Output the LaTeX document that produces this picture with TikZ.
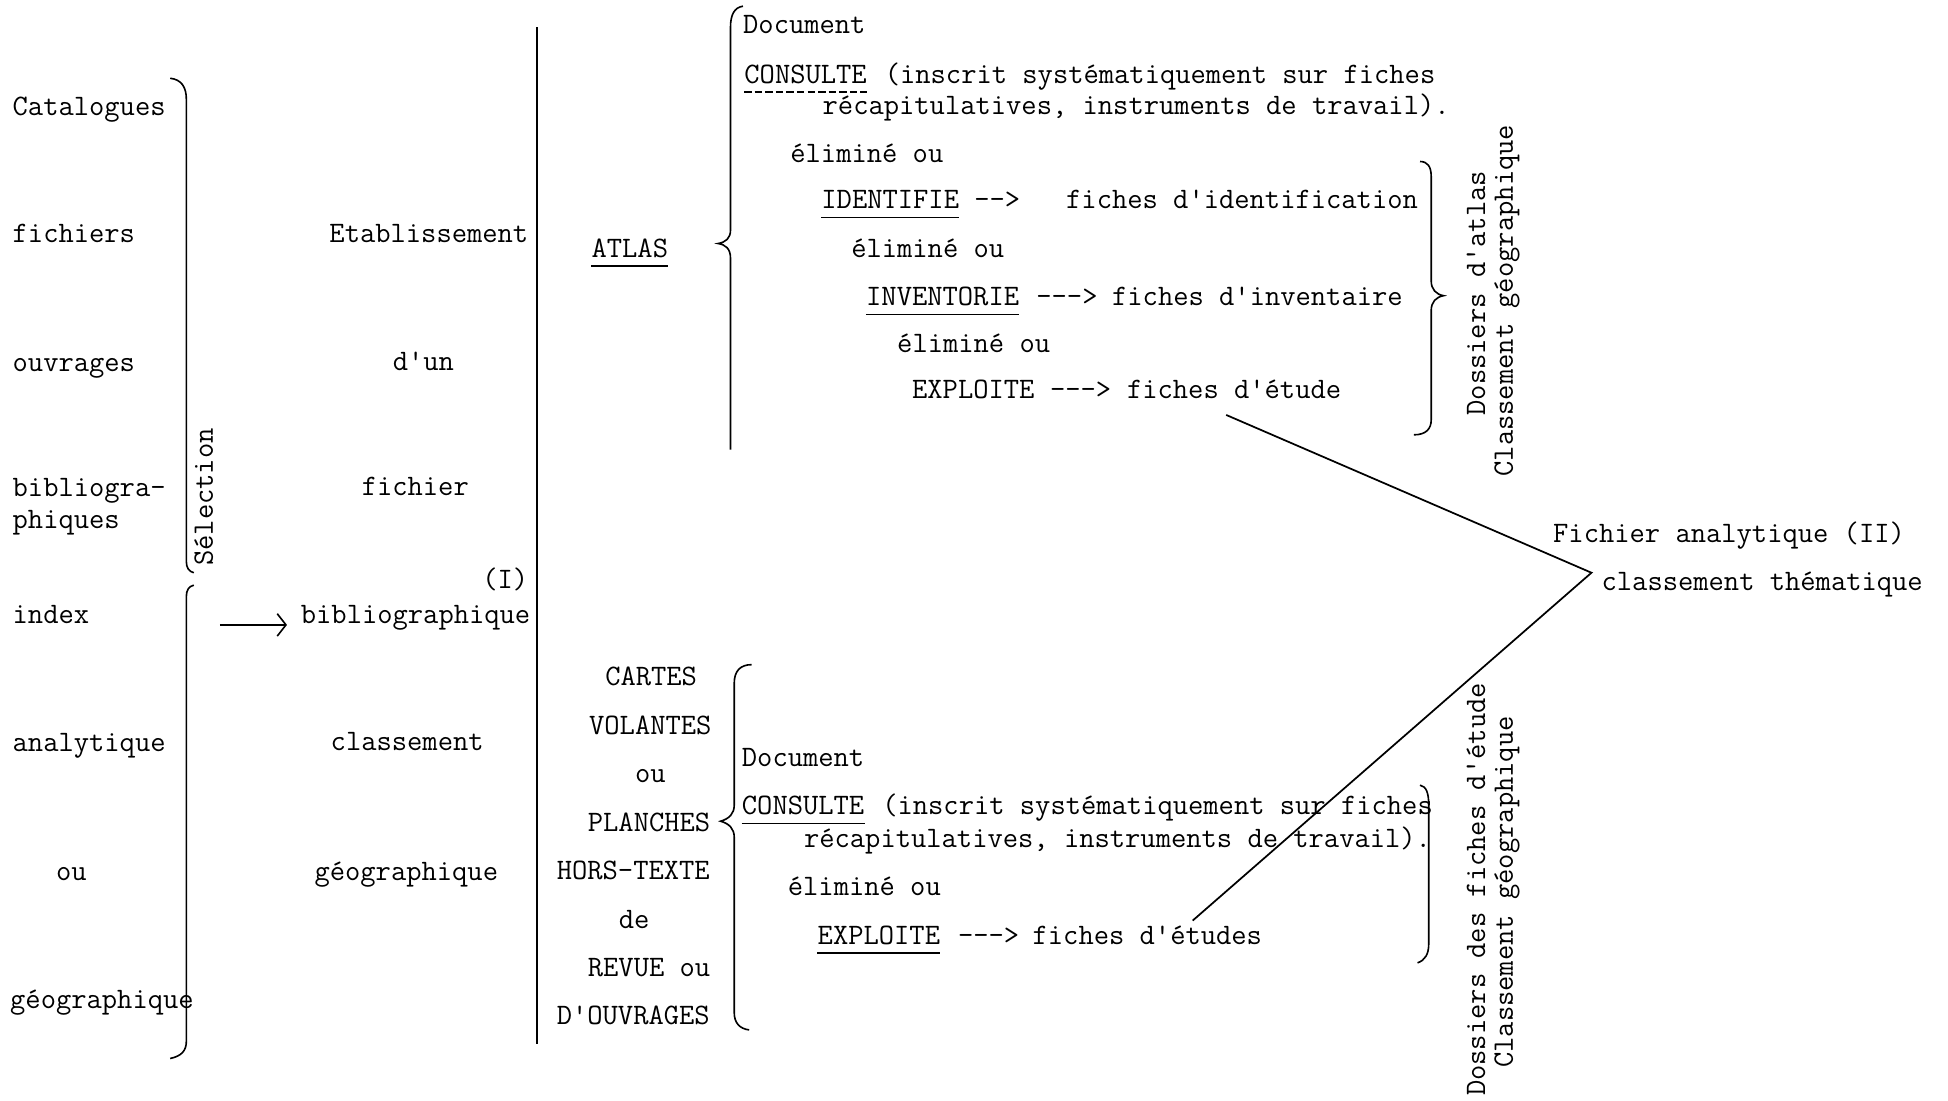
\documentclass[tikz,border=0pt]{standalone}
\usetikzlibrary{arrows.meta}
\newcommand\tyfont{\fontsize{23.9}{25}\selectfont\ttfamily}
\begin{document}
\begin{tikzpicture}[x=1pt,y=-1pt,
  t/.style={anchor=base west, inner sep=0pt, font=\tyfont, yshift=-3pt},
  vt/.style={rotate=90, inner sep=0pt, font=\tyfont},
  ln/.style={line width=1.4pt},
  br/.style={line width=1.3pt},
  ul/.style={line width=1.3pt}]
\useasboundingbox[fill=white] (0,0) rectangle (1568,886);

% column 1
\node[t] (cat) at (10,90) {Catalogues};
\node[t] (fic) at (10,192) {fichiers};
\node[t] (ouv) at (10,296) {ouvrages};
\node[t] (bib1) at (10,397) {bibliogra-};
\node[t] (phi) at (10,422) {phiques};
\node[t] (idx) at (10,499) {index};
\node[t] (ana) at (10,602) {analytique};
\node[t] (ou1) at (45,706) {ou};
\node[t] (geo1) at (8,809) {géographique};

% brace of column 1
\draw[br] (137,63) .. controls (146,64) and (150,70) .. (150,80) -- (150,452) .. controls (150,457) and (152,460) .. (156,461);
\draw[br] (156,471) .. controls (152,472) and (150,475) .. (150,480) -- (150,838) .. controls (150,846) and (146,850) .. (137,852);
\node[vt] (sel) at (164,400) {Sélection};

% arrow
\coordinate (arrs) at (177,503);
\coordinate (arre) at (231,503);
\draw[line width=1.3pt,-{Straight Barb[length=7pt,width=18pt,line width=1.3pt]}] (arrs) -- (arre);

% column 2
\node[t] (eta) at (265,192) {Etablissement};
\node[t] (dun) at (316,295) {d'un};
\node[t] (fch) at (291,396) {fichier};
\node[t] (one) at (388,471) {(I)};
\node[t] (bibl) at (242,499) {bibliographique};
\node[t] (cls) at (266,601) {classement};
\node[t] (geo2) at (253,706) {géographique};

% vertical line
\coordinate (vl1) at (432,22);
\coordinate (vl2) at (432,840);
\draw[ln] (vl1) -- (vl2);

% ATLAS
\node[t] (atlas) at (476,204) {ATLAS};
\draw[ul] ([yshift=-7pt]atlas.base west) -- ([yshift=-7pt]atlas.base east);

\draw[br] (598,5) .. controls (591,6) and (588,12) .. (588,22) -- (588,185) .. controls (588,192) and (584,195) .. (578,196) .. controls (584,197) and (588,200) .. (588,208) -- (588,362);

% upper block
\node[t] (doc1) at (598,24) {Document};
\node[t] (cons1) at (599,64) {CONSULTE};
\draw[ul, dash pattern=on 6pt off 2.5pt] ([yshift=-7pt]cons1.base west) -- ([yshift=-7pt]cons1.base east);
\node[t] (cons1r) at (712,64) {(inscrit systématiquement sur fiches};
\node[t] (recap1) at (662,89) {récapitulatives, instruments de travail).};
\node[t] (el1) at (636,128) {éliminé ou};
\node[t] (ide) at (661,165) {IDENTIFIE};
\draw[ul] ([yshift=-7pt]ide.base west) -- ([yshift=-7pt]ide.base east);
\node[t] (arr1) at (784,165) {-{}->};
\node[t] (fid) at (858,165) {fiches d'identification};
\node[t] (el2) at (685,204) {éliminé ou};
\node[t] (inv) at (697,243) {INVENTORIE};
\draw[ul] ([yshift=-7pt]inv.base west) -- ([yshift=-7pt]inv.base east);
\node[t] (arr2) at (834,243) {-{}-{}->};
\node[t] (finv) at (895,243) {fiches d'inventaire};
\node[t] (el3) at (722,281) {éliminé ou};
\node[t] (exp1) at (734,318) {EXPLOITE};
\node[t] (arr3) at (845,318) {-{}-{}->};
\node[t] (fet) at (907,318) {fiches d'étude};

\draw[br] (1143,130) .. controls (1149,130) and (1152,134) .. (1152,142) -- (1152,226) .. controls (1152,233) and (1156,237) .. (1162,238) .. controls (1156,239) and (1152,243) .. (1152,250) -- (1152,338) .. controls (1152,345) and (1148,350) .. (1138,350);
\node[vt] (dat) at (1188,236) {Dossiers d'atlas};
\node[vt] (cg1) at (1213,242) {Classement géographique};

% analytic file
\node[t] (fa) at (1250,434) {Fichier analytique (II)};
\node[t] (ct) at (1289,472) {classement thématique};
\coordinate (v1) at (987,334);
\coordinate (vtx) at (1281,461);
\coordinate (v2) at (960,741);
\draw[ln] (v1) -- (vtx) -- (v2);

% lower list
\node[t] (cartes) at (487,549) {CARTES};
\node[t] (vol) at (474,588) {VOLANTES};
\node[t] (ou2) at (511,627) {ou};
\node[t] (pla) at (473,666) {PLANCHES};
\node[t] (hors) at (448,705) {HORS-TEXTE};
\node[t] (de) at (498,744) {de};
\node[t] (rev) at (473,783) {REVUE ou};
\node[t] (douv) at (448,822) {D'OUVRAGES};

\draw[br] (605,535) .. controls (596,535) and (591,540) .. (591,550) -- (591,648) .. controls (591,655) and (587,659) .. (580,661) .. controls (587,663) and (591,667) .. (591,674) -- (591,815) .. controls (591,823) and (595,828) .. (603,829);

% lower block
\node[t] (doc2) at (597,614) {Document};
\node[t] (cons2) at (597,653) {CONSULTE};
\draw[ul] ([yshift=-7pt]cons2.base west) -- ([yshift=-7pt]cons2.base east);
\node[t] (cons2r) at (710,653) {(inscrit systématiquement sur fiches};
\node[t] (recap2) at (647,679) {récapitulatives, instruments de travail).};
\node[t] (el4) at (634,718) {éliminé ou};
\node[t] (exp2) at (658,757) {EXPLOITE};
\draw[ul] ([yshift=-7pt]exp2.base west) -- ([yshift=-7pt]exp2.base east);
\node[t] (arr4) at (771,757) {-{}-{}->};
\node[t] (fets) at (831,757) {fiches d'études};

\draw[br] (1143,632) .. controls (1148,633) and (1150,638) .. (1150,648) -- (1150,760) .. controls (1150,768) and (1147,773) .. (1141,775);
\node[vt] (dfe) at (1188,716) {Dossiers des fiches d'étude};
\node[vt] (cg2) at (1213,718) {Classement géographique};
\end{tikzpicture}
\end{document}
